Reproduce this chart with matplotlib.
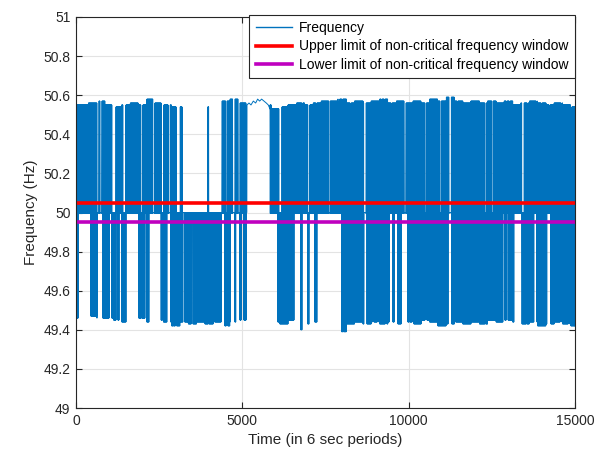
import numpy as np
import matplotlib
matplotlib.use("Agg")
import matplotlib.pyplot as plt

plt.rcParams['font.family'] = ['Liberation Sans', 'DejaVu Sans']

# Time spans (in 6 s periods) where the frequency oscillates in the upper band
# (between the ~50.0 Hz level and the band top).
upper_start = [0, 690, 780, 1200, 1500, 2010, 2370, 2640, 2830, 3130, 3960,
               4390, 4540, 4780, 4930, 5830, 6190, 6820, 7030, 7240, 7640,
               7930, 8020, 8270, 8720, 9200, 9290, 9500, 9920, 10530, 10980,
               11280, 11480, 12330, 12540, 12960, 13050, 13470, 13590, 13860,
               14010, 14250, 14610, 14910]
upper_end = [630, 720, 1080, 1410, 1950, 2310, 2560, 2770, 3010, 3190, 3990,
             4500, 4710, 4870, 5110, 6100, 6790, 6970, 7210, 7600, 7880,
             7990, 8240, 8650, 9170, 9260, 9470, 9860, 10490, 10940, 11210,
             11450, 12290, 12500, 12930, 13020, 13400, 13560, 13830, 13980,
             14220, 14580, 14880, 15000]

# Time spans where the frequency oscillates in the lower band
# (between ~50.0 Hz and the band bottom).
lower_start = [0, 450, 810, 1080, 1260, 1380, 1890, 1980, 2130, 2560, 2610,
               2850, 2940, 3030, 3150, 3270, 3520, 4000, 4180, 4480, 4570,
               4780, 4930, 5050, 6070, 6200, 6760, 6970, 7180, 7990, 8050,
               8750, 8960, 9110, 9350, 9530, 9680, 9980, 10040, 10160, 10550,
               11300, 11420, 12320, 12890, 12990, 13410, 13560, 13860, 14280,
               14610, 14850]
lower_end = [60, 630, 990, 1200, 1290, 1500, 1950, 2070, 2190, 2590, 2730,
             2920, 2980, 3130, 3210, 3460, 3970, 4150, 4360, 4510, 4630,
             4800, 4960, 5110, 6190, 6550, 6790, 7000, 7240, 8020, 8650,
             8900, 9050, 9290, 9410, 9560, 9770, 10010, 10100, 10490, 11180,
             11390, 12290, 12830, 12930, 13160, 13530, 13760, 14150, 14550,
             14790, 15000]

# Peak and trough frequency (Hz) of the oscillation, every 250 periods
edge_step = 250
top_edge = [50.55, 50.55, 50.56, 50.57, 50.55, 50.54, 50.55, 50.56, 50.55,
            50.58, 50.56, 50.55, 50.54, 50.54, 50.54, 50.54, 50.54, 50.56,
            50.57, 50.58, 50.56, 50.57, 50.57, 50.55, 50.53, 50.54, 50.55,
            50.56, 50.55, 50.56, 50.57, 50.57, 50.58, 50.56, 50.57, 50.56,
            50.57, 50.58, 50.56, 50.57, 50.56, 50.57, 50.56, 50.58, 50.57,
            50.59, 50.57, 50.56, 50.57, 50.56, 50.57, 50.56, 50.57, 50.55,
            50.56, 50.57, 50.56, 50.55, 50.56, 50.55, 50.54]
bottom_edge = [49.46, 49.46, 49.47, 49.46, 49.46, 49.45, 49.44, 49.45, 49.46,
               49.44, 49.45, 49.44, 49.42, 49.44, 49.43, 49.44, 49.43, 49.44,
               49.42, 49.44, 49.45, 49.45, 49.45, 49.45, 49.44, 49.43, 49.45,
               49.40, 49.43, 49.44, 49.45, 49.45, 49.39, 49.43, 49.44, 49.43,
               49.44, 49.43, 49.44, 49.43, 49.44, 49.43, 49.45, 49.44, 49.42,
               49.43, 49.44, 49.43, 49.44, 49.43, 49.45, 49.44, 49.45, 49.44,
               49.43, 49.44, 49.42, 49.43, 49.44, 49.43, 49.42]

# Steady period near the top of the range
hold_t = [5140, 5200, 5260, 5330, 5400, 5460, 5520, 5580, 5650, 5720, 5780, 5830]
hold_f = [50.55, 50.56, 50.55, 50.57, 50.56, 50.58, 50.57, 50.58, 50.57, 50.56, 50.55, 50.53]

mid_level = 50.0
upper_limit = 50.05
lower_limit = 49.95


def span_index(t, starts, ends):
    idx = np.full(t.shape, -1)
    for k, (s, e) in enumerate(zip(starts, ends)):
        idx[(t >= s) & (t <= e)] = k
    return idx


t = np.arange(0, 15001, 5)
iu = span_index(t, upper_start, upper_end)
il = span_index(t, lower_start, lower_end)
bin_idx = np.rint(t / edge_step).astype(int)
top = np.array(top_edge)[bin_idx]
bot = np.array(bottom_edge)[bin_idx]
odd = (np.arange(t.size) % 2).astype(bool)

f = np.full(t.shape, mid_level)
both = (iu >= 0) & (il >= 0)
up_only = (iu >= 0) & (il < 0)
lo_only = (iu < 0) & (il >= 0)
f[both] = np.where(odd[both], top[both], bot[both])
f[up_only] = np.where(odd[up_only], top[up_only], mid_level - 0.005)
f[lo_only] = np.where(odd[lo_only], mid_level, bot[lo_only])

keep = (t < hold_t[0]) | (t > hold_t[-1])
t_all = np.concatenate([t[keep], hold_t])
f_all = np.concatenate([f[keep], hold_f])
order = np.argsort(t_all, kind="stable")
t_all, f_all = t_all[order], f_all[order]

W, H = 606, 457
fig = plt.figure(figsize=(W / 100, H / 100), dpi=100)
ax = fig.add_axes([76 / W, 1 - 408 / H, (575 - 76) / W, (408 - 17) / H])

ax.plot(t_all, f_all, color='#0072BD', lw=0.7, label='Frequency')
ax.plot([0, 15000], [upper_limit, upper_limit], color='#FF0000', lw=2.6,
        label='Upper limit of non-critical frequency window')
ax.plot([0, 15000], [lower_limit, lower_limit], color='#BF00BF', lw=2.6,
        label='Lower limit of non-critical frequency window')

ax.set_xlim(0, 15000)
ax.set_ylim(49, 51)
ax.set_xticks([0, 5000, 10000, 15000])
yt = np.round(np.arange(49, 51.01, 0.2), 1)
ax.set_yticks(yt)
ax.set_yticklabels([f"{v:g}" for v in yt])

dark = '#262626'
ax.grid(True, color='#E3E3E3', lw=0.8)
ax.set_axisbelow(True)
ax.tick_params(direction='in', length=4, width=0.8, colors=dark,
               labelsize=10, top=True, right=True, pad=4)
for s in ax.spines.values():
    s.set_color(dark)
    s.set_linewidth(0.8)

ax.set_xlabel('Time (in 6 sec periods)', fontsize=11, color=dark)
ax.set_ylabel('Frequency (Hz)', fontsize=11, color=dark)

leg = ax.legend(loc='upper right', bbox_to_anchor=(575 / W, 1 - 15 / H),
                bbox_transform=fig.transFigure, fontsize=10, frameon=True,
                fancybox=False, edgecolor=dark, framealpha=1,
                borderpad=0.45, labelspacing=0.3, handlelength=2.6,
                handletextpad=0.55, borderaxespad=0)
leg.get_frame().set_linewidth(0.8)
for line in leg.get_lines()[:1]:
    line.set_linewidth(1.0)

fig.savefig('out.png', dpi=100)
